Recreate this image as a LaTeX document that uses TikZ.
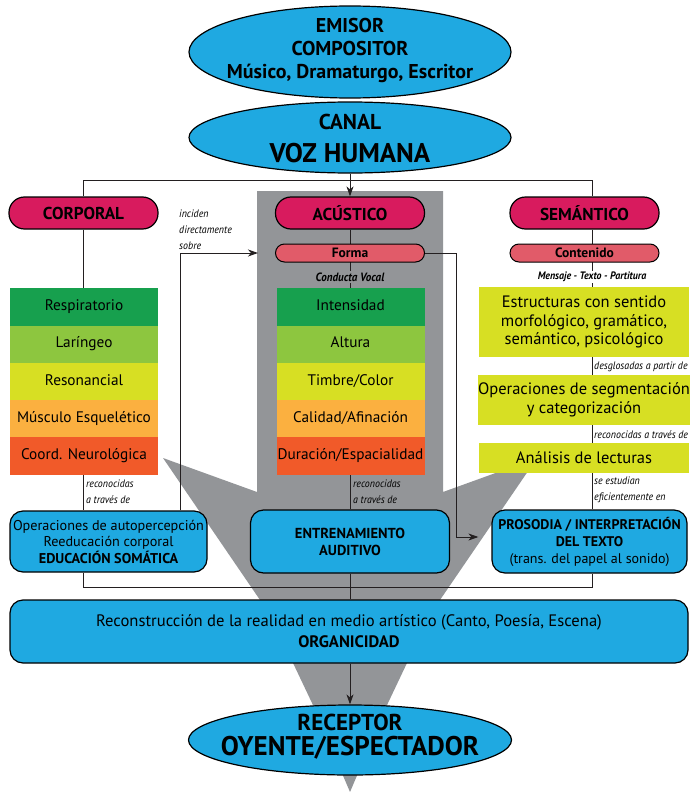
\documentclass[tikz,border=0pt]{standalone}
\usepackage{fontspec}
\setmainfont{PT Sans}
\newfontfamily\condf[FakeStretch=0.92]{PT Sans}
\usetikzlibrary{shapes.geometric,arrows.meta}
\definecolor{cblue}{HTML}{1FA9E1}
\definecolor{crim}{HTML}{D81B5E}
\definecolor{pinkr}{HTML}{E15B69}
\definecolor{fgray}{HTML}{939598}
\definecolor{cA}{HTML}{17A04E}
\definecolor{cB}{HTML}{8DC63F}
\definecolor{cC}{HTML}{D7DF23}
\definecolor{cD}{HTML}{FBB040}
\definecolor{cE}{HTML}{F15A29}
\definecolor{lnc}{HTML}{231F20}
\pgfdeclarelayer{bg}
\pgfdeclarelayer{lns}
\pgfsetlayers{bg,lns,main}
\tikzset{
  ell/.style={ellipse, draw=black, line width=1.2pt, fill=cblue, inner sep=0},
  pill/.style={draw=black, line width=1.2pt, fill=crim, rounded corners=15.5pt, minimum width=149pt, minimum height=32pt, inner sep=0, font=\bfseries\fontsize{17.2}{20}\selectfont},
  subpill/.style={draw=black, line width=1pt, fill=pinkr, rounded corners=9pt, minimum width=149pt, minimum height=18pt, inner sep=0, font=\bfseries\fontsize{13.5}{15}\selectfont},
  cell/.style={minimum width=148pt, minimum height=37.3pt, inner sep=0, anchor=north, text height=11pt, text depth=3.4pt, font=\fontsize{15.3}{18}\selectfont},
  ygbox/.style={fill=cC, minimum width=210pt, inner sep=0, align=center, font=\fontsize{16.5}{18.5}\selectfont},
  bluebox/.style={draw=black, line width=1.2pt, fill=cblue, rounded corners=13pt, inner sep=0, align=center},
  note/.style={inner sep=0, align=left, font=\condf\itshape\fontsize{10.8}{16}\selectfont},
  conn/.style={draw=lnc, line width=1pt},
  arr/.style={conn, -{Stealth[length=10pt,width=7pt,inset=3pt]}},
}
\begin{document}
\begin{tikzpicture}[x=1pt,y=-1pt]
\useasboundingbox (0,0) rectangle (689,792);
% ellipses
\node[ell, minimum width=322pt, minimum height=92pt] (emisor) at (350,52) {};
\node[align=center, font=\bfseries\fontsize{20}{23}\selectfont, inner sep=0] (emisorT) at (350,50.5) {EMISOR\\COMPOSITOR\\Músico, Dramaturgo, Escritor};
\node[ell, minimum width=322pt, minimum height=71pt] (canal) at (350,137.5) {};
\node[font=\bfseries\fontsize{21.5}{24}\selectfont, inner sep=0] (canalT) at (350,122) {CANAL};
\node[font=\bfseries\fontsize{27}{30}\selectfont, inner sep=0] (vozT) at (350,153) {VOZ HUMANA};
% pills
\node[pill] (corp) at (83.5,213) {CORPORAL};
\node[pill] (acus) at (350,213) {ACÚSTICO};
\node[pill] (sem) at (584.5,213) {SEMÁNTICO};
\node[subpill] (forma) at (350,253) {Forma};
\node[subpill] (cont) at (584.5,253) {Contenido};
\node[font=\condf\bfseries\itshape\fontsize{12}{13}\selectfont, fill=fgray, inner sep=1.5pt] (cv) at (350,277) {Conducta Vocal};
\node[font=\condf\bfseries\itshape\fontsize{10.8}{13}\selectfont, fill=white, inner sep=1.5pt] (msj) at (592,277) {Mensaje - Texto - Partitura};
% left stack
\node[cell, fill=cA] (l1) at (84,288) {Respiratorio};
\node[cell, fill=cB] (l2) at (84,325.3) {Laríngeo};
\node[cell, fill=cC] (l3) at (84,362.6) {Resonancial};
\node[cell, fill=cD] (l4) at (84,399.9) {Músculo Esquelético};
\node[cell, fill=cE] (l5) at (84,437.2) {Coord. Neurológica};
% middle stack
\node[cell, fill=cA] (m1) at (350.5,288) {Intensidad};
\node[cell, fill=cB] (m2) at (350.5,325.3) {Altura};
\node[cell, fill=cC] (m3) at (350.5,362.6) {Timbre/Color};
\node[cell, fill=cD] (m4) at (350.5,399.9) {Calidad/Afinación};
\node[cell, fill=cE] (m5) at (350.5,437.2) {Duración/Espacialidad};
% right column
\node[ygbox, minimum height=70pt] (est) at (584,322) {Estructuras con sentido\\morfológico, gramático,\\semántico, psicológico};
\node[ygbox, minimum height=50pt] (opr) at (584,400) {Operaciones de segmentación\\y categorización};
\node[ygbox, minimum height=30pt] (ana) at (584,458) {Análisis de lecturas};
% blue boxes
\node[bluebox, minimum width=197pt, minimum height=61pt, font=\fontsize{14.2}{16.5}\selectfont] (edu) at (108.5,541.5) {Operaciones de autopercepción\\Reeducación corporal\\\textbf{EDUCACIÓN SOMÁTICA}};
\node[bluebox, minimum width=199pt, minimum height=63pt, font=\bfseries\fontsize{14.5}{17}\selectfont] (ent) at (350,541.5) {ENTRENAMIENTO\\AUDITIVO};
\node[bluebox, minimum width=195pt, minimum height=63pt, font=\fontsize{14}{17}\selectfont] (pros) at (589.5,541.5) {\textbf{PROSODIA / INTERPRETACIÓN}\\\textbf{DEL TEXTO}\\(trans. del papel al sonido)};
\node[bluebox, minimum width=678pt, minimum height=63pt, font=\fontsize{16.6}{21}\selectfont] (org) at (349,631.5) {Reconstrucción de la realidad en medio artístico (Canto, Poesía, Escena)\\\textbf{ORGANICIDAD}};
\node[ell, minimum width=323pt, minimum height=70pt] (recep) at (350,740) {};
\node[font=\bfseries\fontsize{23}{26}\selectfont, inner sep=0] (recT) at (350,722) {RECEPTOR};
\node[font=\bfseries\fontsize{27}{30}\selectfont, inner sep=0] (oyT) at (350,748) {OYENTE/ESPECTADOR};
% notes
\node[note, anchor=west] (inc) at (179,230) {inciden\\directamente\\sobre};
\node[note, anchor=west] (rc1) at (86,492) {reconocidas\\a través de};
\node[note, anchor=west] (rc2) at (353,492) {reconocidas\\a través de};
\node[note, anchor=west] (dsg) at (594,367) {desglosadas a partir de};
\node[note, anchor=west] (rc3) at (594,435) {reconocidas a través de};
\node[note, anchor=west] (se) at (594,490) {se estudian\\eficientemente en};
% background funnel
\begin{pgfonlayer}{bg}
\fill[fgray] (257,191) -- (443,191) -- (443,492) -- (537,458) -- (440,600) -- (407,663) -- (388,703) -- (350,792) -- (312,703) -- (293,663) -- (260,600) -- (163,458) -- (257,492) -- cycle;
\end{pgfonlayer}
% connectors
\begin{pgfonlayer}{lns}
\draw[conn] (corp.north) -- ++(0,-16) -| ([xshift=7.5pt]sem.north);
\draw[arr] (canal.south) -- (acus.north);
\draw[conn] (acus.south) -- (ent.north);
\draw[conn] (ent.south) -- (ent.south |- org.north);
\draw[arr] (org.south -| recep.north) -- (recep.north);
\draw[conn] (corp.south) -- (corp.south |- edu.north);
\draw[conn] (corp.south |- edu.south) -- ++(0,15) -| ([xshift=2.5pt]pros.south);
\draw[conn] ([xshift=7.5pt]sem.south) -- ([xshift=2.5pt]pros.north);
\draw[arr] ([xshift=71.5pt]edu.north) |- ([xshift=-17pt]forma.west);
\draw[arr] (forma.east) -- ++(31,0) |- ([xshift=-13pt,yshift=4.5pt]pros.west);
\end{pgfonlayer}
\end{tikzpicture}
\end{document}
